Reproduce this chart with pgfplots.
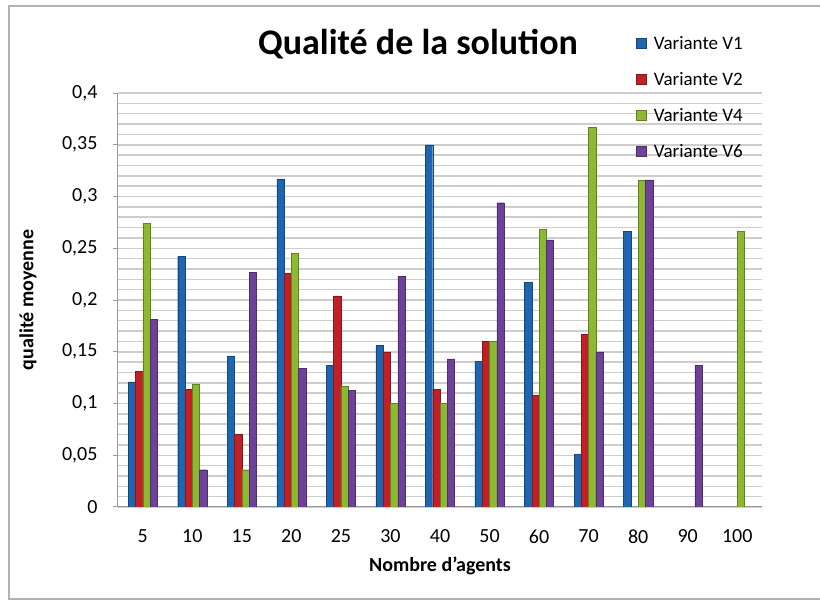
\documentclass[border=0pt]{standalone}
\usepackage{fontspec}
\setmainfont{Carlito}
\usepackage{pgfplots}
\pgfplotsset{compat=1.18}
\definecolor{vone}{RGB}{30,102,176}
\definecolor{vtwo}{RGB}{192,32,38}
\definecolor{vfour}{RGB}{140,184,50}
\definecolor{vsix}{RGB}{110,66,152}
\definecolor{gridgray}{RGB}{205,205,205}
\begin{document}
\begin{tikzpicture}[x=1pt,y=1pt]
\path[use as bounding box] (0,0) rectangle (820,-601);
\draw[gray!60, line width=1.2pt] (820,-6) -- (9,-6) -- (9,-599) -- (820,-599);
\node[font=\fontsize{36}{40}\selectfont\bfseries] at (418,-44) {Qualité de la solution};
\begin{axis}[
  at={(118pt,-507pt)}, anchor=south west,
  scale only axis, width=644pt, height=414pt,
  ybar=0pt, bar width=7.3pt,
  xmin=-0.5, xmax=12.5, ymin=0, ymax=0.4,
  xtick={0,1,2,3,4,5,6,7,8,9,10,11,12},
  xticklabels={5,10,15,20,25,30,40,50,60,70,80,90,100},
  ytick={0,0.05,0.1,0.15,0.2,0.25,0.3,0.35,0.4},
  yticklabels={0,{0,05},{0,1},{0,15},{0,2},{0,25},{0,3},{0,35},{0,4}},
  minor y tick num=4,
  ymajorgrids, yminorgrids,
  major grid style={gridgray, line width=1.5pt},
  minor grid style={gridgray, line width=1.5pt},
  axis lines*=left,
  axis line style={-, gray!80, line width=1pt},
  tick align=outside, major tick length=5pt, minor tick length=0pt,
  xtick style={draw=none},
  ytick style={gray!80, line width=1pt},
  ticklabel style={font=\fontsize{20}{22}\selectfont},
  yticklabel style={xshift=-12pt},
  xticklabel style={yshift=-14pt},
  xlabel={Nombre d'agents}, ylabel={qualité moyenne},
  label style={font=\fontsize{20}{22}\selectfont\bfseries},
  xlabel style={at={(rel axis cs:0.5,-0.143)}, anchor=center},
  ylabel style={at={(rel axis cs:-0.14,0.5)}, anchor=center},
  legend image code/.code={\path[#1] (0pt,-5pt) rectangle (10pt,5pt);},
  legend style={at={(rel axis cs:0.80,1.148)}, anchor=north west,
    draw=none, fill=none, font=\fontsize{19}{21}\selectfont,
    row sep=17.5pt, column sep=5pt},
  legend cell align=left,
]
\addplot[fill=vone, draw=vone!70!black, line width=0.4pt]
  coordinates {(0,0.121) (1,0.242) (2,0.146) (3,0.317) (4,0.137) (5,0.156) (6,0.350) (7,0.141) (8,0.217) (9,0.051) (10,0.266)};
\addplot[fill=vtwo, draw=vtwo!70!black, line width=0.4pt]
  coordinates {(0,0.131) (1,0.114) (2,0.070) (3,0.226) (4,0.204) (5,0.150) (6,0.114) (7,0.160) (8,0.108) (9,0.167)};
\addplot[fill=vfour, draw=vfour!70!black, line width=0.4pt]
  coordinates {(0,0.274) (1,0.119) (2,0.036) (3,0.245) (4,0.117) (5,0.100) (6,0.100) (7,0.160) (8,0.268) (9,0.367) (10,0.316) (12,0.266)};
\addplot[fill=vsix, draw=vsix!70!black, line width=0.4pt]
  coordinates {(0,0.181) (1,0.036) (2,0.227) (3,0.134) (4,0.113) (5,0.223) (6,0.143) (7,0.294) (8,0.258) (9,0.150) (10,0.316) (11,0.137)};
\legend{Variante V1,Variante V2,Variante V4,Variante V6}
\end{axis}
\end{tikzpicture}
\end{document}
